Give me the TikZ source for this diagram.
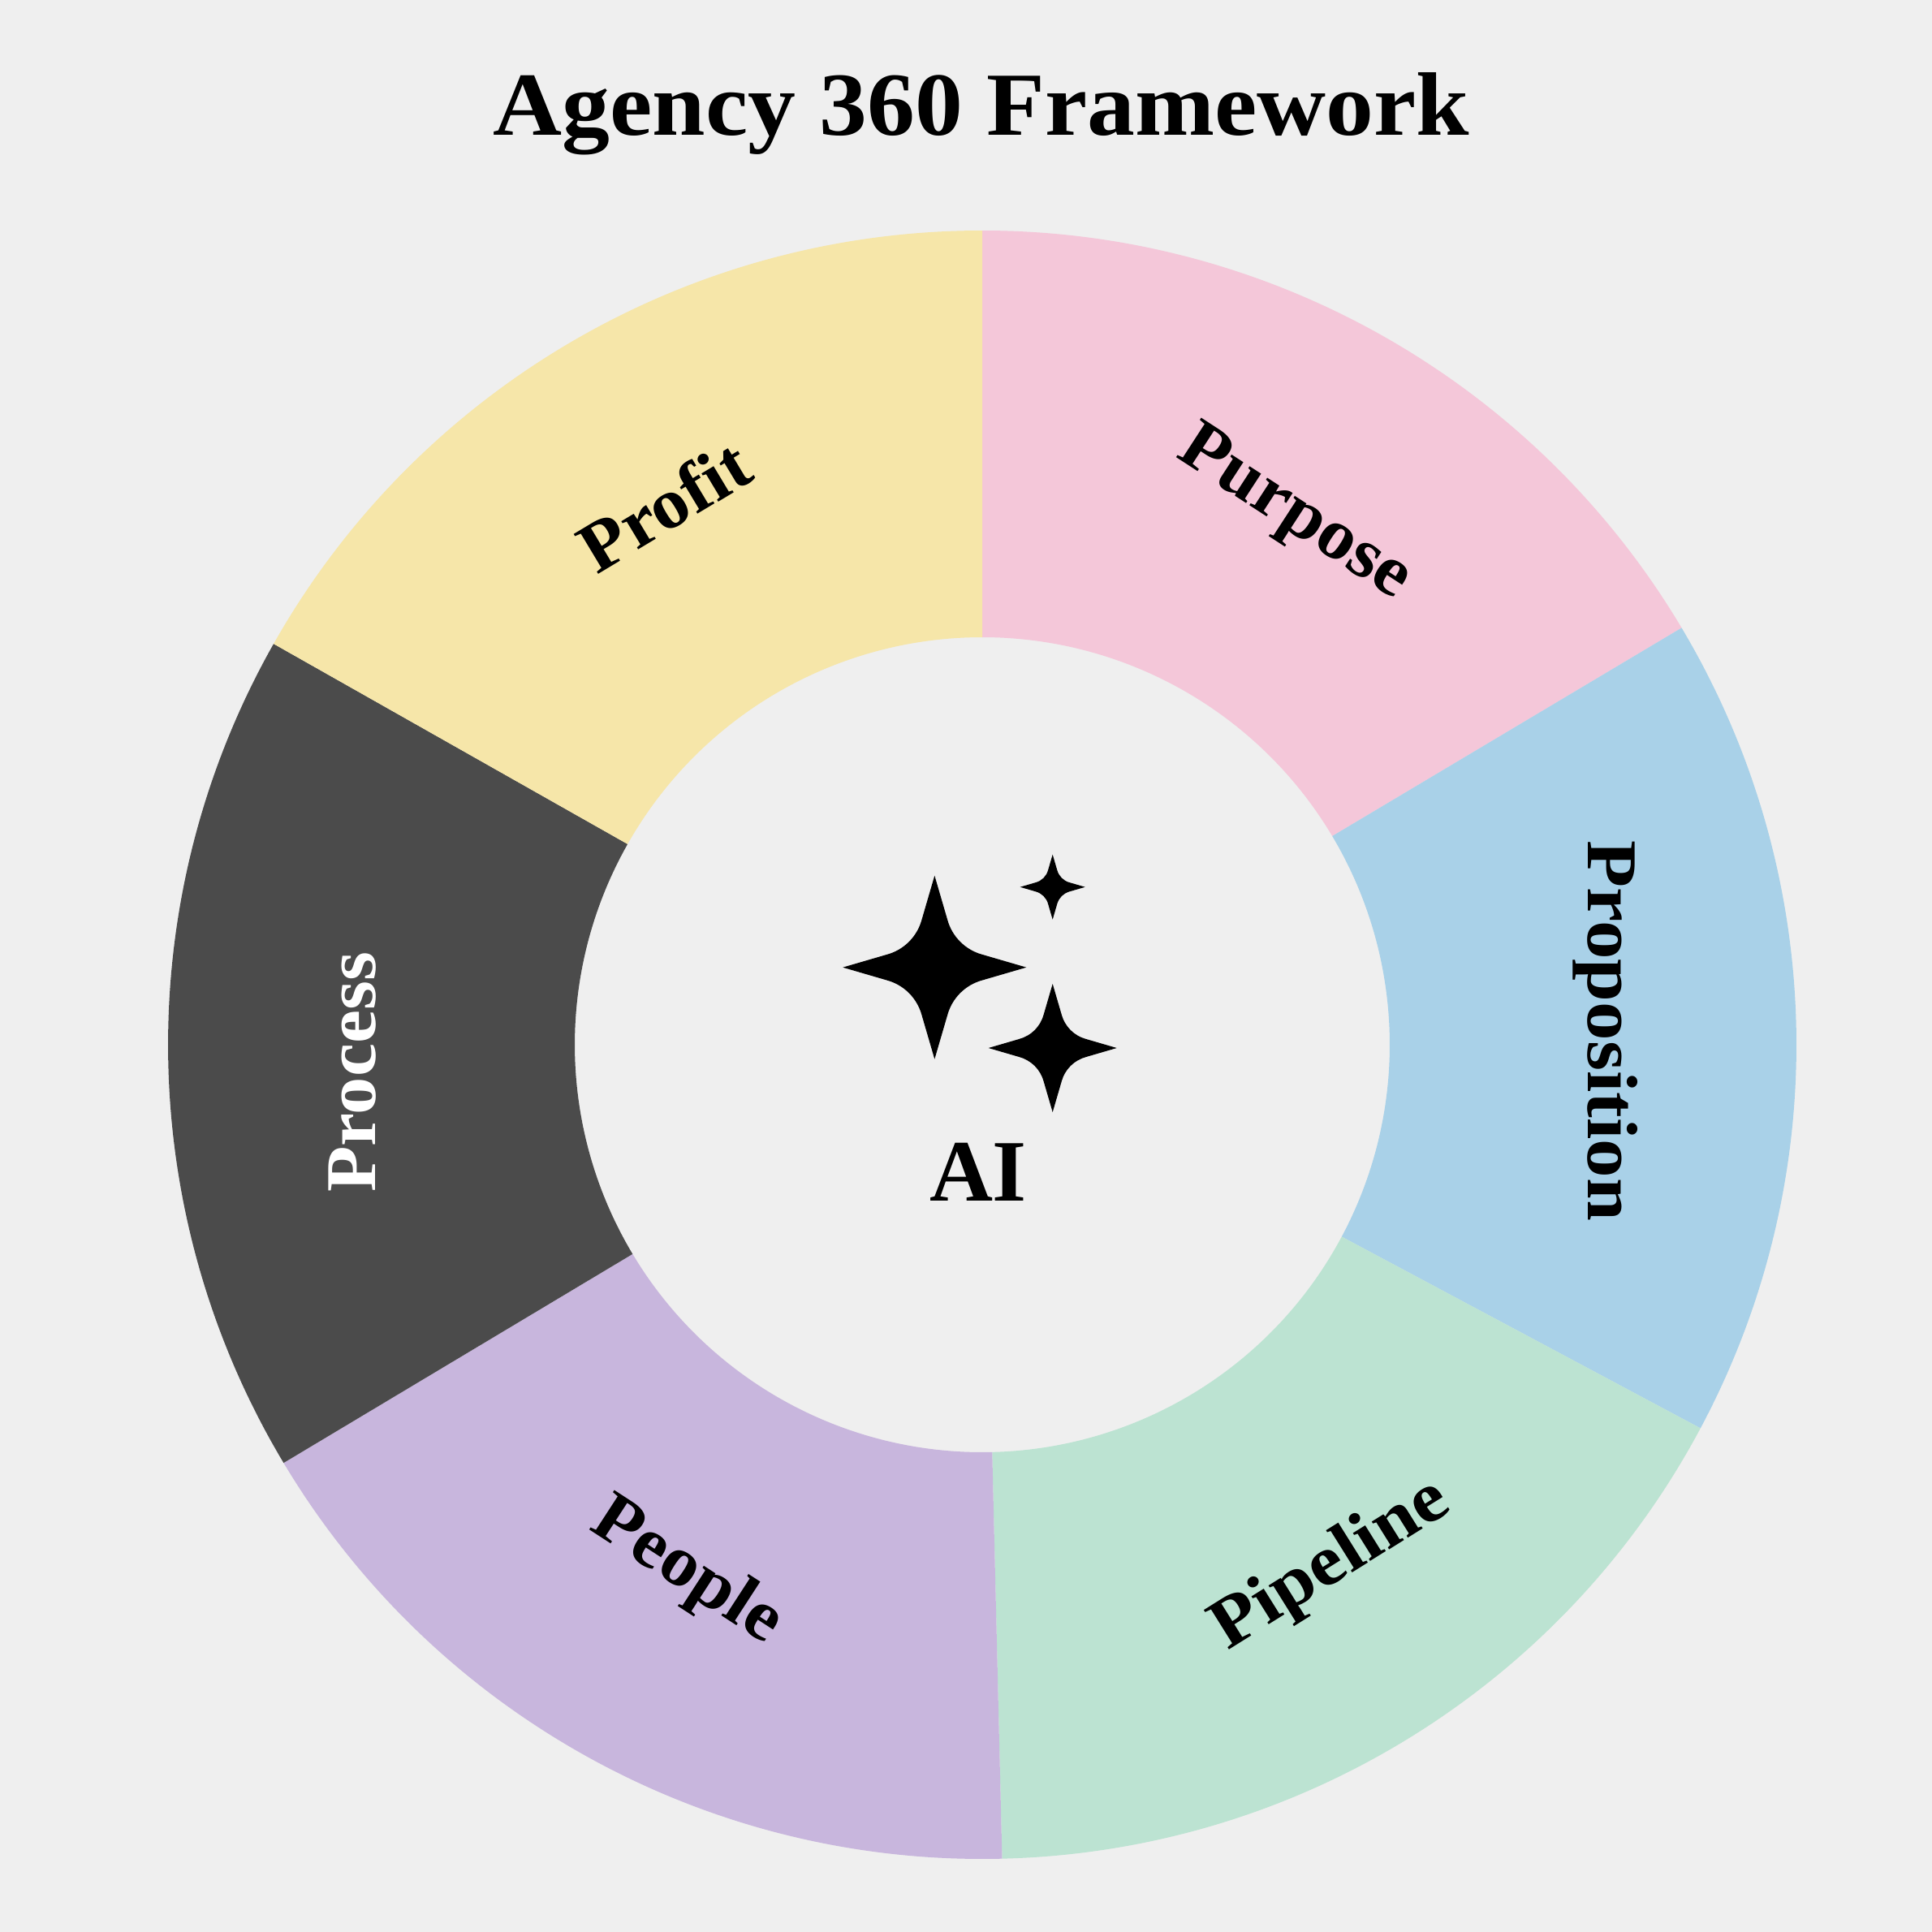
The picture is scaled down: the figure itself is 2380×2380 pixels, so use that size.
\documentclass[tikz,border=0pt]{standalone}
\usepackage{fontspec}
\setmainfont{Liberation Serif}
\newfontfamily\wideserif[FakeStretch=1.05]{Liberation Serif}
\newfontfamily\widerserif[FakeStretch=1.08]{Liberation Serif}
\newfontfamily\titleserif[FakeStretch=1.06]{Liberation Serif}
\definecolor{pagebg}{HTML}{EFEFEF}
\definecolor{segpink}{HTML}{F4C7D9}
\definecolor{segblue}{HTML}{A9D1E8}
\definecolor{seggreen}{HTML}{BCE3D2}
\definecolor{segpurple}{HTML}{C8B6DD}
\definecolor{segdark}{HTML}{4B4B4B}
\definecolor{segyellow}{HTML}{F6E6A9}
\newcommand{\ringsector}[3]{%
  \fill[#1] ([shift={(90-#2:1003pt)}]c) arc[start angle=90-#2,end angle=90-#3,radius=1003pt]
    -- ([shift={(90-#3:502pt)}]c) arc[start angle=90-#3,end angle=90-#2,radius=502pt] -- cycle;}
\newcommand{\sparkle}[3]{%
  \fill[black,shift={(#1pt,-#2pt)},x=#3pt,y=#3pt]
    (0,1) -- (.14,.52) .. controls (.19,.335) and (.335,.19) .. (.52,.14)
    -- (1,0) -- (.52,-.14) .. controls (.335,-.19) and (.19,-.335) .. (.14,-.52)
    -- (0,-1) -- (-.14,-.52) .. controls (-.19,-.335) and (-.335,-.19) .. (-.52,-.14)
    -- (-1,0) -- (-.52,.14) .. controls (-.335,.19) and (-.19,.335) .. (-.14,.52) -- cycle;}
\tikzset{
  seglabel/.style={inner sep=0pt,anchor=base,font=\wideserif\bfseries\fontsize{88pt}{100pt}\selectfont},
  seglabelwide/.style={inner sep=0pt,anchor=base,font=\widerserif\bfseries\fontsize{88pt}{100pt}\selectfont},
  titlelabel/.style={inner sep=0pt,anchor=base,font=\titleserif\bfseries\fontsize{111pt}{120pt}\selectfont},
  centerlabel/.style={inner sep=0pt,anchor=base,font=\bfseries\fontsize{108pt}{114pt}\selectfont}
}
\begin{document}
\begin{tikzpicture}[x=1pt,y=1pt]
\useasboundingbox (0,0) rectangle (2380,-2380);
\fill[pagebg] (0,0) rectangle (2380,-2380);
\coordinate (c) at (1210,-1287);
\ringsector{segpink}{0}{59.2}
\ringsector{segblue}{59.2}{118.1}
\ringsector{seggreen}{118.1}{178.6}
\ringsector{segpurple}{178.6}{239.1}
\ringsector{segdark}{239.1}{299.5}
\ringsector{segyellow}{299.5}{360}
\node[titlelabel] (title) at (1209,-166) {Agency 360 Framework};
\node[seglabel,rotate=-33] (purpose) at (1583,-651) {Purpose};
\node[seglabelwide,rotate=-90] (proposition) at (1956,-1270) {Proposition};
\node[seglabelwide,rotate=32] (pipeline) at (1651,-1947) {Pipeline};
\node[seglabel,rotate=-33] (people) at (834,-1955) {People};
\node[seglabel,rotate=90,text=white] (process) at (462,-1321) {Process};
\node[seglabel,rotate=31] (profit) at (834,-649) {Profit};
\sparkle{1151.3}{1191.7}{113}
\sparkle{1296.7}{1092.7}{40}
\sparkle{1296.7}{1291}{79}
\node[centerlabel] (ai) at (1205,-1479) {AI};
\end{tikzpicture}
\end{document}
